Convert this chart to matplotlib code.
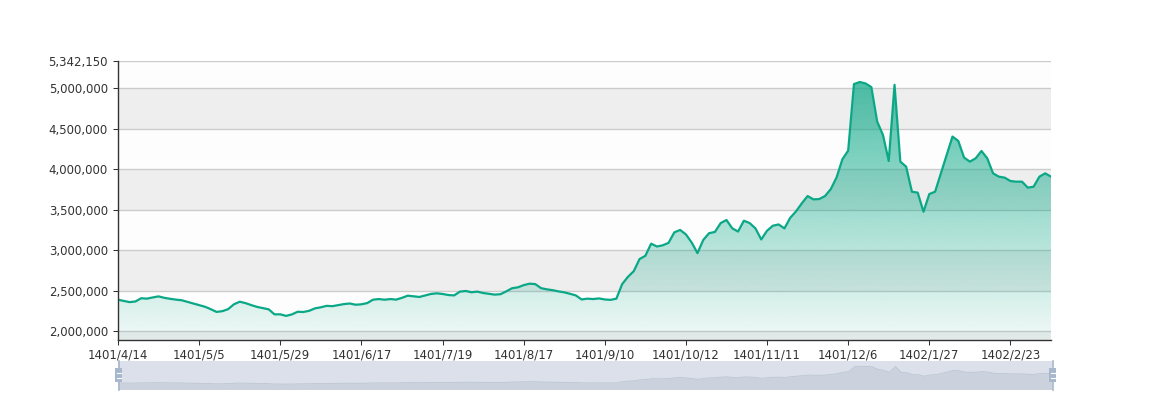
import matplotlib
matplotlib.use('Agg')
import matplotlib.pyplot as plt
import numpy as np
from matplotlib.patches import Rectangle
from matplotlib.lines import Line2D
from matplotlib.ticker import FuncFormatter

# ---------------- data ----------------
tick_labels = ['1401/4/14', '1401/5/5', '1401/5/29', '1401/6/17', '1401/7/19',
               '1401/8/17', '1401/9/10', '1401/10/12', '1401/11/11', '1401/12/6',
               '1402/1/27', '1402/2/23']

values = [
    2387000, 2372000, 2357000, 2365000, 2405000, 2400000, 2415000, 2428000, 2410000, 2398000,
    2388000, 2380000, 2360000, 2340000, 2320000, 2300000, 2270000, 2236000, 2245000, 2270000,
    2330000, 2362000, 2345000, 2320000, 2298000, 2283000, 2268000, 2206000, 2206000, 2187000,
    2205000, 2238000, 2235000, 2250000, 2280000, 2293000, 2311000, 2307000, 2320000, 2333000,
    2340000, 2325000, 2330000, 2345000, 2387000, 2395000, 2387000, 2395000, 2388000, 2410000,
    2437000, 2429000, 2421000, 2440000, 2458000, 2466000, 2458000, 2445000, 2440000, 2487000,
    2495000, 2479000, 2487000, 2470000, 2460000, 2450000, 2455000, 2490000, 2529000, 2540000,
    2567000, 2585000, 2580000, 2530000, 2515000, 2505000, 2490000, 2478000, 2460000, 2440000,
    2390000, 2400000, 2395000, 2403000, 2390000, 2385000, 2400000, 2580000, 2670000, 2740000,
    2890000, 2930000, 3080000, 3045000, 3060000, 3090000, 3220000, 3250000, 3195000, 3094000,
    2963000, 3127000, 3210000, 3225000, 3335000, 3373000, 3270000, 3230000, 3364000, 3335000,
    3269000, 3132000, 3240000, 3302000, 3318000, 3269000, 3400000, 3480000, 3579000, 3669000,
    3628000, 3632000, 3669000, 3755000, 3900000, 4124000, 4231000, 5054000, 5080000, 5062000,
    5017000, 4591000, 4426000, 4103000, 5045000, 4095000, 4033000, 3723000, 3711000, 3475000,
    3694000, 3723000, 3950000, 4178000, 4405000, 4351000, 4145000, 4095000, 4136000, 4227000,
    4136000, 3950000, 3909000, 3897000, 3855000, 3847000, 3847000, 3773000, 3785000, 3909000,
    3950000, 3909000,
]

y_ticks = [2000000, 2500000, 3000000, 3500000, 4000000, 4500000, 5000000, 5342150]
y_min = 1888600
y_max = 5342150
label_step = 14

# ---------------- style ----------------
W, H = 1168, 400
teal = '#0aa887'
axis_col = '#333333'
plt.rcParams['font.family'] = ['DejaVu Sans']

n = len(values)
x = np.arange(n)
vals = np.array(values, dtype=float)

fig = plt.figure(figsize=(W / 100, H / 100), dpi=100)
top_px, bot_px, left_px, right_px = 60.8, 340.0, 118.0, 1051.0
ax = fig.add_axes([left_px / W, (H - bot_px) / H, (right_px - left_px) / W, (bot_px - top_px) / H])

# split areas
edges = [y_min] + y_ticks
for k in range(len(edges) - 1):
    c = '#eeeeee' if k % 2 == 0 else '#fdfdfd'
    ax.axhspan(edges[k], edges[k + 1], color=c, lw=0, zorder=0)
# split lines
for t in y_ticks:
    ax.axhline(t, color='#cccccc', lw=1, zorder=1)

# gradient area
poly = ax.fill_between(x, vals, y_min, color='none', lw=0, zorder=2)
alpha = np.linspace(0.05, 0.72, 256)
rgb = matplotlib.colors.to_rgb(teal)
img = np.zeros((256, 1, 4))
img[:, 0, 0], img[:, 0, 1], img[:, 0, 2] = rgb
img[:, 0, 3] = alpha
im = ax.imshow(img, extent=[0, n - 1, y_min, vals.max()], origin='lower',
               aspect='auto', zorder=2, interpolation='bilinear')
im.set_clip_path(poly.get_paths()[0], transform=ax.transData)

ax.plot(x, vals, color=teal, lw=1.6, zorder=3, solid_joinstyle='round')

ax.set_xlim(0, n - 1)
ax.set_ylim(y_min, y_max)
ax.set_xticks(range(0, n, label_step))
ax.set_xticklabels(tick_labels)
ax.set_yticks(y_ticks)
ax.yaxis.set_major_formatter(FuncFormatter(lambda v, p: f'{int(round(v)):,}'))

for s in ['top', 'right']:
    ax.spines[s].set_visible(False)
for s in ['left', 'bottom']:
    ax.spines[s].set_color(axis_col)
    ax.spines[s].set_linewidth(1)
    ax.spines[s].set_zorder(4)
ax.tick_params(axis='both', direction='out', length=3.75, width=0.75, color=axis_col,
               labelsize=8.5, labelcolor=axis_col)
ax.tick_params(axis='y', pad=3.5)
ax.tick_params(axis='x', pad=2.5)

# ---------------- data zoom slider ----------------
s_top, s_bot, s_left, s_right = 361.0, 389.5, 118.0, 1052.0
sax = fig.add_axes([s_left / W, (H - s_bot) / H, (s_right - s_left) / W, (s_bot - s_top) / H])
sax.set_xlim(0, n - 1)
sax.set_ylim(0, 1)
sax.axis('off')
sax.add_patch(Rectangle((0, 0), 1, 1, transform=sax.transAxes, color='#dbe0ea', lw=0, zorder=0))
r = vals.max() - vals.min()
ext0, ext1 = vals.min() - 0.3 * r, vals.max() + 0.3 * r
sy = (vals - ext0) / (ext1 - ext0)
sax.fill_between(x, sy, 0, color='#cbd2dd', lw=0, zorder=1)
sax.plot(x, sy, color='#bcc5d2', lw=0.6, zorder=2)


def fx(px):
    return px / W


def fy(py):
    return (H - py) / H


for hx in (118.8, 1052.8):
    fig.add_artist(Line2D([fx(hx), fx(hx)], [fy(s_top), fy(s_bot)], color='#a7b7cc', lw=1.2,
                          transform=fig.transFigure))
    fig.add_artist(Rectangle((fx(hx - 3.5), fy(382)), 7 / W, 14 / H, color='#a7b7cc', lw=0,
                             transform=fig.transFigure))
    for ly in (372.5, 377.5):
        fig.add_artist(Line2D([fx(hx - 2), fx(hx + 2)], [fy(ly), fy(ly)], color='white', lw=0.8,
                              transform=fig.transFigure))

fig.savefig('out.png', dpi=100)
